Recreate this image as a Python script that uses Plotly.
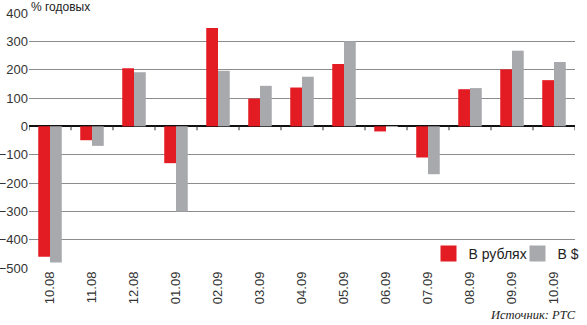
import plotly.graph_objects as go

categories = ["10.08", "11.08", "12.08", "01.09", "02.09", "03.09", "04.09",
              "05.09", "06.09", "07.09", "08.09", "09.09", "10.09"]
rub_values = [-460, -49, 205, -130, 347, 98, 137, 220, -18, -110, 131, 201, 163]
usd_values = [-481, -69, 191, -301, 196, 143, 175, 300, -2, -169, 135, 267, 227]
y_ticks = [400, 300, 200, 100, 0, -100, -200, -300, -400, -500]

RED = "#e31b23"
GRAY = "#a7a9ac"
FONT = "Liberation Sans"

fig = go.Figure()
fig.add_trace(go.Bar(x=categories, y=rub_values, marker=dict(color=RED, line=dict(width=0)),
                     showlegend=False, name="В рублях"))
fig.add_trace(go.Bar(x=categories, y=usd_values, marker=dict(color=GRAY, line=dict(width=0)),
                     showlegend=False, name="В $"))
# legend entries with larger square swatches, one legend each for precise placement
fig.add_trace(go.Scatter(x=[None], y=[None], mode="markers", name="В рублях", legend="legend",
                         marker=dict(symbol="square", size=18, color=RED)))
fig.add_trace(go.Scatter(x=[None], y=[None], mode="markers", name="В $", legend="legend2",
                         marker=dict(symbol="square", size=18, color=GRAY)))

# small ticks on zero line at category boundaries
n = len(categories)
for i in range(n + 1):
    fig.add_shape(type="line", xref="x", yref="y", x0=i - 0.5, x1=i - 0.5, y0=0, y1=-14,
                  line=dict(color="#333333", width=1))

leg_common = dict(orientation="h", xanchor="left", y=0.055, yanchor="middle",
                  font=dict(size=14, color="#222222"), bgcolor="rgba(0,0,0,0)",
                  itemwidth=30)

fig.update_layout(
    width=587, height=325,
    margin=dict(l=29, r=12, t=13, b=57, autoexpand=False),
    paper_bgcolor="white", plot_bgcolor="white",
    barmode="group", bargap=0.44, bargroupgap=0,
    font=dict(family=FONT, size=13, color="#333333"),
    legend=dict(x=0.7317, **leg_common),
    legend2=dict(x=0.8947, **leg_common),
    xaxis=dict(type="category", tickangle=-90, showgrid=False, zeroline=False,
               showline=False, ticks="", tickfont=dict(size=13, color="#333333"),
               range=[-0.5, n - 0.5], automargin=False),
    yaxis=dict(range=[-500, 400], tickvals=y_ticks, showgrid=True, gridcolor="#8c8c8c",
               gridwidth=1, zeroline=True, zerolinecolor="#111111", zerolinewidth=1.5,
               showline=False, ticks="", tickfont=dict(size=13, color="#333333"),
               automargin=False),
    annotations=[
        dict(text="% годовых", xref="paper", yref="paper", x=0, y=1, xanchor="left",
             yanchor="bottom", yshift=-3, showarrow=False,
             font=dict(family=FONT, size=12, color="#222222")),
        dict(text="<i>Источник: РТС</i>", xref="paper", yref="paper", x=1, y=0,
             xanchor="right", yanchor="bottom", xshift=3, yshift=-56, showarrow=False,
             font=dict(family="Liberation Serif", size=12.5, color="#222222")),
    ],
)

fig.write_html("out.html", config={"displayModeBar": False},
               post_script="document.body.style.margin='0px';document.body.style.overflow='hidden';")
